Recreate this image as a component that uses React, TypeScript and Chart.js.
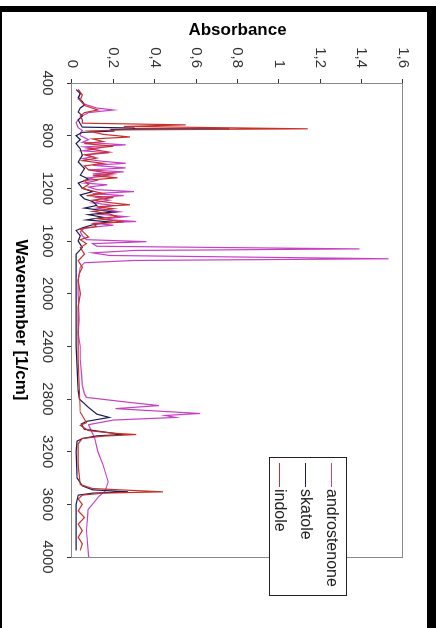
import { useEffect, useRef } from 'react';
import { Chart, registerables } from 'chart.js';

Chart.register(...registerables);

// ---- data ----
const seriesNames = ['androstenone', 'skatole', 'indole'];
const seriesColors = ['#c63fc6', '#1c1c55', '#c8302a'];

const xTickValues = [400, 800, 1200, 1600, 2000, 2400, 2800, 3200, 3600, 4000];
const yTickValues = [0, 0.2, 0.4, 0.6, 0.8, 1, 1.2, 1.4, 1.6];

const androWn = [450, 480, 520, 560, 590, 605, 625, 650, 680, 700, 720, 740, 760, 780, 800, 830, 850, 870, 885, 900, 915, 930, 945, 960, 975, 995, 1010, 1025, 1045, 1060, 1075, 1090, 1105, 1120, 1140, 1160, 1173, 1190, 1210, 1225, 1240, 1255, 1270, 1290, 1310, 1330, 1350, 1378, 1395, 1415, 1435, 1452, 1465, 1480, 1500, 1530, 1560, 1590, 1605, 1620, 1640, 1660, 1672, 1690, 1710, 1735, 1748, 1765, 1800, 1900, 2000, 2200, 2300, 2400, 2500, 2600, 2700, 2760, 2788, 2830, 2850, 2873, 2895, 2910, 2925, 2940, 2960, 2995, 3030, 3100, 3200, 3300, 3430, 3500, 3540, 3640, 3800, 4000];
const androAbs = [0.03, 0.04, 0.03, 0.06, 0.12, 0.2, 0.08, 0.05, 0.03, 0.02, 0.025, 0.03, 0.05, 0.04, 0.04, 0.08, 0.05, 0.26, 0.06, 0.12, 0.05, 0.18, 0.07, 0.1, 0.05, 0.15, 0.26, 0.1, 0.26, 0.08, 0.25, 0.1, 0.18, 0.08, 0.12, 0.06, 0.17, 0.08, 0.12, 0.3, 0.1, 0.25, 0.12, 0.18, 0.1, 0.2, 0.12, 0.23, 0.12, 0.26, 0.15, 0.31, 0.1, 0.2, 0.06, 0.04, 0.05, 0.07, 0.36, 0.1, 0.12, 1.39, 0.3, 0.1, 0.18, 1.53, 0.3, 0.06, 0.04, 0.03, 0.03, 0.035, 0.03, 0.04, 0.04, 0.045, 0.05, 0.06, 0.07, 0.3, 0.42, 0.21, 0.45, 0.62, 0.45, 0.5, 0.2, 0.08, 0.09, 0.11, 0.125, 0.15, 0.175, 0.16, 0.13, 0.078, 0.07, 0.08];

const skatoleWn = [450, 480, 510, 540, 567, 590, 620, 650, 680, 710, 735, 742, 748, 753, 765, 775, 800, 830, 860, 900, 950, 1000, 1050, 1100, 1130, 1160, 1200, 1225, 1250, 1280, 1300, 1330, 1350, 1380, 1400, 1420, 1440, 1455, 1477, 1500, 1520, 1560, 1600, 1650, 1700, 1800, 2000, 2400, 2730, 2800, 2865, 2915, 2940, 2970, 2990, 3030, 3060, 3070, 3080, 3100, 3120, 3200, 3400, 3460, 3490, 3505, 3515, 3530, 3600, 3800, 3950];
const skatoleAbs = [0.02, 0.04, 0.03, 0.05, 0.06, 0.04, 0.03, 0.05, 0.03, 0.04, 0.05, 0.3, 0.76, 0.19, 0.2, 0.05, 0.02, 0.04, 0.02, 0.04, 0.05, 0.03, 0.06, 0.04, 0.08, 0.03, 0.05, 0.1, 0.04, 0.06, 0.1, 0.12, 0.06, 0.2, 0.08, 0.15, 0.07, 0.18, 0.1, 0.05, 0.02, 0.04, 0.03, 0.05, 0.02, 0.02, 0.02, 0.02, 0.03, 0.035, 0.08, 0.12, 0.18, 0.07, 0.045, 0.06, 0.2, 0.24, 0.12, 0.05, 0.025, 0.02, 0.025, 0.05, 0.1, 0.27, 0.1, 0.03, 0.02, 0.02, 0.02];

const indoleWn = [450, 490, 530, 570, 605, 625, 650, 680, 705, 718, 730, 748, 756, 765, 790, 810, 825, 845, 860, 880, 900, 925, 945, 970, 990, 1010, 1030, 1060, 1090, 1105, 1120, 1140, 1170, 1200, 1240, 1255, 1270, 1290, 1310, 1325, 1340, 1355, 1375, 1395, 1415, 1430, 1455, 1470, 1490, 1510, 1540, 1570, 1590, 1620, 1650, 1700, 1750, 1800, 1850, 1900, 2000, 2100, 2300, 2500, 2700, 2900, 2980, 3000, 3040, 3060, 3070, 3082, 3100, 3140, 3300, 3450, 3480, 3495, 3505, 3515, 3530, 3560, 3600, 3650, 3700, 3750, 3800, 3850, 3900, 3950];
const indoleAbs = [0.03, 0.05, 0.04, 0.06, 0.125, 0.06, 0.04, 0.05, 0.05, 0.55, 0.25, 1.14, 0.25, 0.08, 0.15, 0.28, 0.1, 0.15, 0.06, 0.2, 0.08, 0.18, 0.06, 0.12, 0.05, 0.15, 0.06, 0.08, 0.2, 0.1, 0.22, 0.06, 0.08, 0.05, 0.15, 0.07, 0.2, 0.1, 0.19, 0.28, 0.12, 0.2, 0.1, 0.18, 0.22, 0.12, 0.25, 0.1, 0.12, 0.04, 0.06, 0.08, 0.04, 0.07, 0.04, 0.06, 0.03, 0.05, 0.035, 0.03, 0.04, 0.03, 0.03, 0.03, 0.035, 0.04, 0.07, 0.04, 0.08, 0.2, 0.31, 0.15, 0.05, 0.03, 0.03, 0.04, 0.1, 0.3, 0.44, 0.15, 0.05, 0.03, 0.05, 0.03, 0.06, 0.03, 0.05, 0.03, 0.05, 0.04];

const seriesWn = [androWn, skatoleWn, indoleWn];
const seriesAbs = [androAbs, skatoleAbs, indoleAbs];

const FONT = 'Liberation Sans, Arial, sans-serif';

const framePlugin = {
  id: 'frame',
  beforeDatasetsDraw(chart: any) {
    const { ctx, chartArea: a } = chart;
    ctx.save();
    ctx.strokeStyle = '#8a8a8a';
    ctx.lineWidth = 1;
    ctx.strokeRect(Math.round(a.left) + 0.5, Math.round(a.top) + 0.5, Math.round(a.right - a.left), Math.round(a.bottom - a.top));
    ctx.restore();
  },
};

const legendPlugin = {
  id: 'customLegend',
  afterDraw(chart: any) {
    const { ctx } = chart;
    const left = 457, top = 89, w = 138, h = 77;
    ctx.save();
    ctx.fillStyle = '#ffffff';
    ctx.fillRect(left, top, w, h);
    ctx.strokeStyle = '#222';
    ctx.lineWidth = 1;
    ctx.strokeRect(left + 0.5, top + 0.5, w, h);
    ctx.font = `16px ${FONT}`;
    ctx.textBaseline = 'middle';
    ctx.textAlign = 'left';
    chart.data.datasets.forEach((ds: any, i: number) => {
      const y = top + 15 + i * 26 + 0.5;
      ctx.strokeStyle = ds.borderColor;
      ctx.beginPath();
      ctx.moveTo(left + 6, y);
      ctx.lineTo(left + 30, y);
      ctx.stroke();
      ctx.fillStyle = '#222';
      ctx.fillText(ds.label, left + 32, y);
    });
    ctx.restore();
  },
};

export default function App() {
  const ref = useRef<HTMLCanvasElement | null>(null);
  useEffect(() => {
    if (!ref.current) return;
    const datasets = seriesNames.map((name, i) => ({
      label: name,
      data: seriesWn[i].map((x, j) => ({ x, y: seriesAbs[i][j] })),
      borderColor: seriesColors[i],
      backgroundColor: seriesColors[i],
      borderWidth: 1.2,
      pointRadius: 0,
      tension: 0,
      fill: false,
      order: 2 - i,
    }));
    const chart = new Chart(ref.current, {
      type: 'line',
      data: { datasets },
      plugins: [framePlugin, legendPlugin],
      options: {
        responsive: false,
        animation: false,
        layout: { padding: { top: 33, right: 71, left: 0, bottom: 0 } },
        plugins: { legend: { display: false }, tooltip: { enabled: false } },
        scales: {
          x: {
            type: 'linear',
            min: 400,
            max: 4000,
            afterBuildTicks: (s: any) => { s.ticks = xTickValues.map((v) => ({ value: v })); },
            afterFit: (s: any) => { s.height = 72; },
            ticks: {
              autoSkip: false,
              maxRotation: 0,
              padding: 11,
              color: '#333',
              font: { family: FONT, size: 15 },
              callback: (v: any) => String(Math.round(Number(v))),
            },
            grid: { drawOnChartArea: false, drawTicks: true, tickLength: 5, color: '#333' },
            border: { color: '#333' },
            title: { display: true, text: 'Wavenumber [1/cm]', color: '#000', font: { family: FONT, size: 17, weight: 'bold' }, padding: { top: 0, bottom: 10 } },
          },
          y: {
            type: 'linear',
            min: 0,
            max: 1.6,
            afterBuildTicks: (s: any) => { s.ticks = yTickValues.map((v) => ({ value: v })); },
            afterFit: (s: any) => { s.width = 83; },
            ticks: {
              padding: 11,
              color: '#333',
              font: { family: FONT, size: 15 },
              callback: (v: any) => String(Math.round(Number(v) * 10) / 10).replace('.', ','),
            },
            grid: { drawOnChartArea: false, drawTicks: true, tickLength: 4, color: '#333' },
            border: { color: '#333' },
            title: { display: true, text: 'Absorbance', color: '#000', font: { family: FONT, size: 17, weight: 'bold' }, padding: { top: 20, bottom: 0 } },
          },
        },
      } as any,
    });
    return () => chart.destroy();
  }, []);

  return (
    <div style={{ position: 'absolute', left: 0, top: 0, width: 436, height: 628, background: '#fff', overflow: 'hidden' }}>
      <div style={{ position: 'absolute', left: 0, top: 0, width: 628, height: 436, transformOrigin: '0 0', transform: 'translateX(436px) rotate(90deg)' }}>
        <canvas ref={ref} width={628} height={436} style={{ width: 628, height: 436, display: 'block' }} />
      </div>
      <div style={{ position: 'absolute', left: 0, top: 6, width: 436, height: 6, background: '#000' }} />
      <div style={{ position: 'absolute', left: 0, top: 6, width: 2, height: 622, background: '#000' }} />
      <div style={{ position: 'absolute', left: 427, top: 6, width: 9, height: 622, background: '#000' }} />
    </div>
  );
}
